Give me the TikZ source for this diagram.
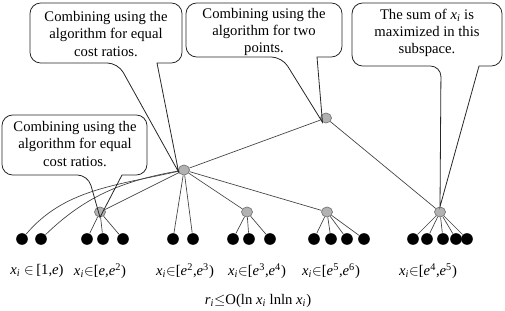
\documentclass[tikz,border=0pt]{standalone}
\usepackage{fontspec}
\setmainfont{Liberation Serif}
\usetikzlibrary{shapes.geometric}

\newcommand{\xsub}[1]{\textit{#1}\textsubscript{\textit{i}}}

\tikzset{every picture/.style={line width=0.75pt}}
\tikzset{
  leaf/.style={circle,fill=black,inner sep=0pt,minimum size=8.75pt},
  joint/.style={ellipse,fill=black!30,draw=black!55,line width=0.5pt,inner sep=0pt,minimum width=8.25pt,minimum height=7.5pt},
  link/.style={draw=black!75,line width=0.5pt},
  callout/.style={draw=black!85,line width=0.6pt},
  note/.style={align=center,inner sep=0.75pt,font=\fontsize{11}{13}\selectfont},
  rangelabel/.style={inner sep=0.75pt,font=\fontsize{11}{13}\selectfont}
}

\begin{document}
\begin{tikzpicture}[x=0.75pt,y=0.75pt,yscale=-1,xscale=1]
\path[use as bounding box] (0,0) rectangle (505,310);

%Shape: Ellipse [joints]
\node [joint] (root) at (326,118) {};
\node [joint] (hub) at (184,170) {};
\node [joint] (sub1) at (100,212) {};
\node [joint] (sub2) at (247,212) {};
\node [joint] (sub3) at (327,212) {};
\node [joint] (sub4) at (440,212) {};

%Shape: Circle [leaves]
\node [leaf] (a1) at (22,239) {};
\node [leaf] (a2) at (41,239) {};
\node [leaf] (b1) at (87,239) {};
\node [leaf] (b2) at (103,239) {};
\node [leaf] (b3) at (123,239) {};
\node [leaf] (c1) at (173,239) {};
\node [leaf] (c2) at (193,239) {};
\node [leaf] (e1) at (233,239) {};
\node [leaf] (e2) at (249,239) {};
\node [leaf] (e3) at (270,239) {};
\node [leaf] (f1) at (314,239) {};
\node [leaf] (f2) at (331,239) {};
\node [leaf] (f3) at (347,239) {};
\node [leaf] (f4) at (364,239) {};
\node [leaf] (h1) at (413,239) {};
\node [leaf] (h2) at (427,239) {};
\node [leaf] (h3) at (443,239) {};
\node [leaf] (h4) at (456,239) {};
\node [leaf] (h5) at (467,239) {};

%Straight Lines [tree]
\draw [link] (root) -- (hub);
\draw [link] (root) -- (sub4);
\draw [link] (hub) to [out=165,in=305] (a1);
\draw [link] (hub) to [out=168,in=310] (a2);
\draw [link] (hub) -- (sub1);
\draw [link] (hub) -- (c1);
\draw [link] (hub) -- (c2);
\draw [link] (hub) -- (sub2);
\draw [link] (hub) -- (sub3);
\foreach \k in {b1,b2,b3} \draw [link] (sub1) -- (\k);
\foreach \k in {e1,e2,e3} \draw [link] (sub2) -- (\k);
\foreach \k in {f1,f2,f3,f4} \draw [link] (sub3) -- (\k);
\foreach \k in {h1,h2,h3,h4,h5} \draw [link] (sub4) -- (\k);

%Shape: Callout [top left]
\draw [callout] (157,63) [rounded corners=8pt] -- (182,63) -- (182,3) -- (30,3) -- (30,63) -- (118,63) [sharp corners] -- (hub.200) -- cycle;
%Shape: Callout [top middle]
\draw [callout] (317,57) [rounded corners=8pt] -- (342,57) -- (342,3) -- (186,3) -- (186,57) -- (282,57) [sharp corners] -- (root.230) -- cycle;
%Shape: Callout [top right]
\draw [callout] (479,66) [rounded corners=8pt] -- (502,66) -- (502,3) -- (352,3) -- (352,66) -- (441,66) [sharp corners] -- (sub4.north) -- cycle;
%Shape: Callout [lower left]
\draw [callout] (122,175) [rounded corners=8pt] -- (147,175) -- (147,115) -- (2,115) -- (2,175) -- (88,175) [sharp corners] -- (sub1.south) -- cycle;

% Text Node
\node [note] (n1) at (106,34) {Combining using the\\algorithm for equal\\cost ratios.};
% Text Node
\node [note] (n2) at (264,32) {Combining using the\\algorithm for two\\points.};
% Text Node
\node [note] (n3) at (427,33) {The sum of \xsub{x} is\\maximized in this\\subspace.};
% Text Node
\node [note] (n4) at (75,144) {Combining using the\\algorithm for equal\\cost ratios.};

% Text Node
\node [rangelabel] (r1) at (37,271) {\xsub{x} $\in$\,[1,\textit{e})};
% Text Node
\node [rangelabel] (r2) at (100,271) {\xsub{x}$\in$[\textit{e},\textit{e}\textsuperscript{2})};
% Text Node
\node [rangelabel] (r3) at (185,271) {\xsub{x}$\in$[\textit{e}\textsuperscript{2},\textit{e}\textsuperscript{3})};
% Text Node
\node [rangelabel] (r4) at (257,271) {\xsub{x}$\in$[\textit{e}\textsuperscript{3},\textit{e}\textsuperscript{4})};
% Text Node
\node [rangelabel] (r5) at (331,271) {\xsub{x}$\in$[\textit{e}\textsuperscript{5},\textit{e}\textsuperscript{6})};
% Text Node
\node [rangelabel] (r6) at (428,271) {\xsub{x}$\in$[\textit{e}\textsuperscript{4},\textit{e}\textsuperscript{5})};
% Text Node
\node [rangelabel] (bound) at (258,301) {\xsub{r}$\leq$O(ln \xsub{x} lnln \xsub{x})};

\end{tikzpicture}
\end{document}
